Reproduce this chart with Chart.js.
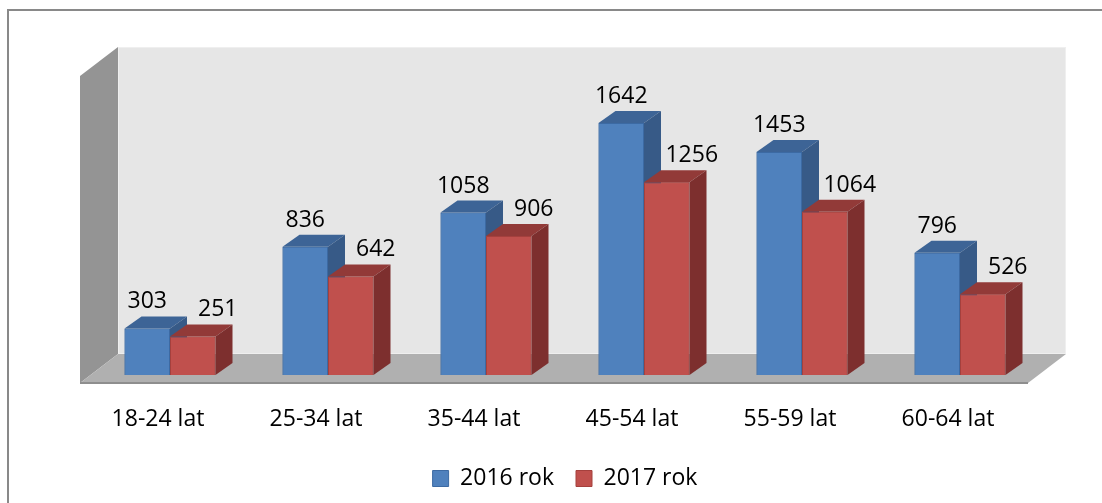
<!DOCTYPE html>
<html>
<head>
<meta charset="utf-8">
<script src="https://cdn.jsdelivr.net/npm/chart.js@4/dist/chart.umd.min.js"></script>
<style>
  html, body { margin: 0; padding: 0; background: #fff; }
  #wrap { width: 1102px; height: 503px; position: relative; }
</style>
</head>
<body>
<div id="wrap"><canvas id="age-chart"></canvas></div>
<script>
const categories = ["18-24 lat", "25-34 lat", "35-44 lat", "45-54 lat", "55-59 lat", "60-64 lat"];
const seriesNames = ["2016 rok", "2017 rok"];
const values2016 = [303, 836, 1058, 1642, 1453, 796];
const values2017 = [251, 642, 906, 1256, 1064, 526];
const axisMin = 0;
const axisMax = 2000;

// 3D look: bar plane -> floor front, floor front -> back wall, bar depth
const shift = { x: -11, y: 8 };
const depth = { x: 38, y: -29 };
const barDepth = { x: 17, y: -12 };
const faces = [
  { top: "#3d6496", side: "#375a87" },
  { top: "#923a38", side: "#7d2f2e" }
];
const labelShift = [0, 25];

function poly(ctx, pts, fill) {
  ctx.beginPath();
  ctx.moveTo(pts[0][0], pts[0][1]);
  for (let i = 1; i < pts.length; i++) ctx.lineTo(pts[i][0], pts[i][1]);
  ctx.closePath();
  ctx.fillStyle = fill;
  ctx.fill();
}

const chart3d = {
  id: "chart3d",
  beforeDraw(chart) {
    const ctx = chart.ctx;
    ctx.save();
    ctx.strokeStyle = "#898989";
    ctx.lineWidth = 2;
    ctx.strokeRect(8, 10, 1300, 700);
    ctx.restore();
  },
  beforeDatasetsDraw(chart) {
    const { ctx, chartArea: a } = chart;
    const x0 = a.left + shift.x, x1 = a.right + shift.x;
    const yT = a.top + shift.y, yB = a.bottom + shift.y;
    ctx.save();
    // back wall
    poly(ctx, [[x0 + depth.x, yT + depth.y], [x1 + depth.x, yT + depth.y],
               [x1 + depth.x, yB + depth.y], [x0 + depth.x, yB + depth.y]], "#e6e6e6");
    ctx.strokeStyle = "#efefef";
    ctx.lineWidth = 1;
    ctx.strokeRect(x0 + depth.x + 0.5, yT + depth.y + 0.5, x1 - x0 - 1, yB - yT - 1);
    // side wall
    poly(ctx, [[x0, yT], [x0 + depth.x, yT + depth.y], [x0 + depth.x, yB + depth.y], [x0, yB]], "#949494");
    // floor
    poly(ctx, [[x0, yB], [x0 + depth.x, yB + depth.y], [x1 + depth.x, yB + depth.y], [x1, yB]], "#b0b0b0");
    ctx.fillStyle = "#8e8e8e";
    ctx.fillRect(x0, yB - 1, x1 - x0, 2);
    ctx.restore();
  },
  afterDatasetsDraw(chart) {
    const ctx = chart.ctx;
    const metas = chart.data.datasets.map((d, i) => chart.getDatasetMeta(i));
    ctx.save();
    for (let i = 0; i < categories.length; i++) {
      metas.forEach((meta, s) => {
        const bar = meta.data[i];
        const { x, y, base, width } = bar.getProps(["x", "y", "base", "width"], true);
        const l = x - width / 2, r = x + width / 2;
        bar.draw(ctx);
        poly(ctx, [[l, y], [l + barDepth.x, y + barDepth.y], [r + barDepth.x, y + barDepth.y], [r, y]], faces[s].top);
        poly(ctx, [[r, y], [r + barDepth.x, y + barDepth.y], [r + barDepth.x, base + barDepth.y], [r, base]], faces[s].side);
      });
    }
    ctx.font = '23px "Open Sans"';
    ctx.fillStyle = "#000";
    ctx.textAlign = "center";
    ctx.textBaseline = "alphabetic";
    metas.forEach((meta, s) => {
      const data = chart.data.datasets[s].data;
      meta.data.forEach((bar, i) => {
        ctx.fillText(String(data[i]), bar.x + labelShift[s], bar.y - 20);
      });
    });
    ctx.restore();
  }
};

Chart.defaults.font.family = '"Open Sans", sans-serif';
Chart.defaults.font.size = 23;
Chart.defaults.color = "#000";

new Chart(document.getElementById("age-chart"), {
  type: "bar",
  data: {
    labels: categories,
    datasets: [
      {
        label: seriesNames[0],
        data: values2016,
        backgroundColor: "#4f81bd",
        borderColor: "#3c6aa3",
        borderWidth: 1
      },
      {
        label: seriesNames[1],
        data: values2017,
        backgroundColor: "#c0504d",
        borderColor: "#a5403d",
        borderWidth: 1
      }
    ]
  },
  options: {
    responsive: true,
    maintainAspectRatio: false,
    animation: false,
    datasets: {
      bar: {
        categoryPercentage: 0.576,
        barPercentage: 1
      }
    },
    layout: {
      padding: { left: 91, right: 63, top: 68, bottom: 3 }
    },
    plugins: {
      legend: {
        position: "bottom",
        labels: {
          boxWidth: 16,
          boxHeight: 16,
          padding: 22,
          font: { size: 23 }
        }
      },
      tooltip: { enabled: false }
    },
    scales: {
      x: {
        grid: { display: false },
        border: { display: false },
        ticks: { padding: 23, labelOffset: -12, maxRotation: 0 },
        afterFit(scale) {
          scale.height = 70;
        }
      },
      y: {
        display: false,
        min: axisMin,
        max: axisMax
      }
    }
  },
  plugins: [chart3d]
});
</script>
</body>
</html>
